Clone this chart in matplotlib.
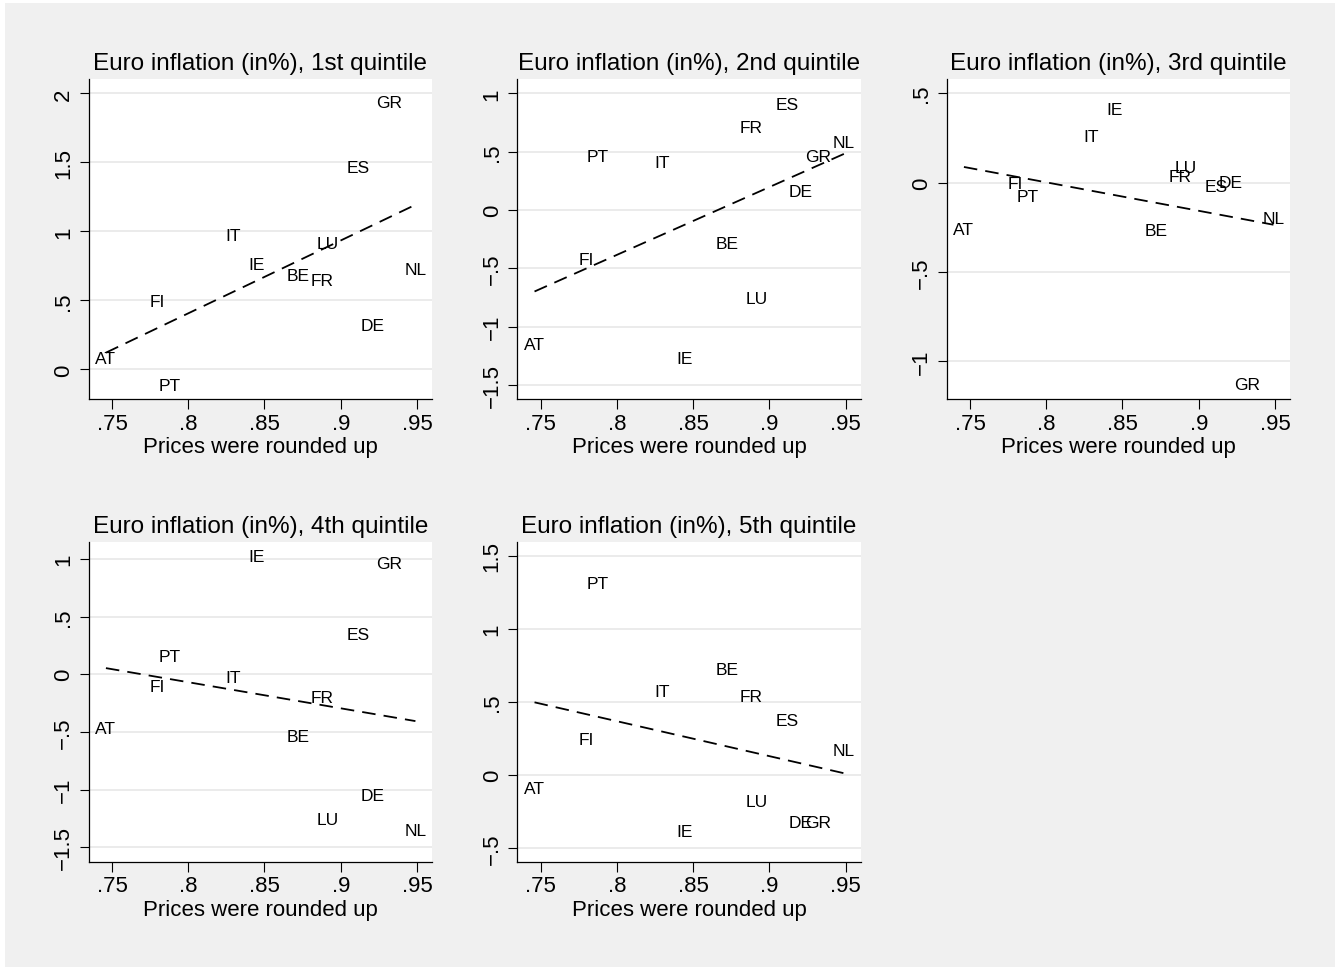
import numpy as np
import matplotlib
matplotlib.use("Agg")
import matplotlib.pyplot as plt
from matplotlib.patches import Rectangle

plt.rcParams['font.family'] = ['Liberation Sans', 'DejaVu Sans']
plt.rcParams['axes.unicode_minus'] = True

# ------------------------------
# data
# ------------------------------
countries = ["AT", "FI", "PT", "IT", "IE", "BE", "FR", "LU", "ES", "DE", "GR", "NL"]
rounded_up = [0.746, 0.780, 0.7876, 0.8297, 0.8445, 0.8723, 0.888, 0.8917, 0.9115, 0.9208, 0.932, 0.949]

infl_q1 = [0.080, 0.489, -0.116, 0.967, 0.757, 0.677, 0.641, 0.912, 1.463, 0.319, 1.935, 0.726]
infl_q2 = [-1.157, -0.426, 0.457, 0.403, -1.277, -0.291, 0.703, -0.757, 0.900, 0.160, 0.457, 0.580]
infl_q3 = [-0.264, -0.004, -0.078, 0.257, 0.408, -0.268, 0.035, 0.086, -0.022, 0.000, -1.130, -0.203]
infl_q4 = [-0.473, -0.104, 0.156, -0.029, 1.022, -0.540, -0.199, -1.261, 0.343, -1.050, 0.964, -1.354]
infl_q5 = [-0.096, 0.243, 1.313, 0.568, -0.387, 0.723, 0.535, -0.181, 0.375, -0.325, -0.323, 0.167]

titles = ["Euro inflation (in%), 1st quintile", "Euro inflation (in%), 2nd quintile",
          "Euro inflation (in%), 3rd quintile", "Euro inflation (in%), 4th quintile",
          "Euro inflation (in%), 5th quintile"]
x_ticks = [0.75, 0.8, 0.85, 0.9, 0.95]
y_ticks = [[0, 0.5, 1, 1.5, 2],
           [-1.5, -1, -0.5, 0, 0.5, 1],
           [-1, -0.5, 0, 0.5],
           [-1.5, -1, -0.5, 0, 0.5, 1],
           [-0.5, 0, 0.5, 1, 1.5]]
y_lims = [(-0.213, 2.104), (-1.62, 1.123), (-1.209, 0.579), (-1.622, 1.149), (-0.593, 1.597)]
series = [infl_q1, infl_q2, infl_q3, infl_q4, infl_q5]


def stata_fmt(v):
    # stata style: .5 instead of 0.5, real minus sign
    s = "%g" % v
    s = s.replace("0.", ".") if abs(v) < 1 else s
    return s.replace("-", "\u2212")


# ------------------------------
# figure layout (pixel positions of the plot regions)
# ------------------------------
W, H = 1340, 970
fig = plt.figure(figsize=(W / 100, H / 100), dpi=100, facecolor="white")
fig.patches.append(Rectangle((5 / W, 2 / H), 1330 / W, 964 / H, transform=fig.transFigure,
                             facecolor="#f0f0f0", edgecolor="none", zorder=-10))

lefts = [88.7, 517.3, 946.7, 88.7, 517.3]
tops = [80, 80, 80, 542.7, 542.7]
pw, ph = 343.5, 319.8

x = np.array(rounded_up)
for i in range(5):
    ax = fig.add_axes([lefts[i] / W, 1 - (tops[i] + ph) / H, pw / W, ph / H])
    ax.set_facecolor("white")
    y = np.array(series[i])

    ax.set_xlim(0.7347, 0.960)
    ax.set_ylim(*y_lims[i])
    ax.set_yticks(y_ticks[i])
    ax.set_yticklabels([stata_fmt(v) for v in y_ticks[i]])
    ax.set_xticks(x_ticks)
    ax.set_xticklabels([stata_fmt(v) for v in x_ticks])
    ax.grid(axis="y", color="#e8e8e8", linewidth=1.2)
    ax.set_axisbelow(True)

    for s in ["top", "right"]:
        ax.spines[s].set_visible(False)
    for s in ["left", "bottom"]:
        ax.spines[s].set_linewidth(0.9)
    ax.tick_params(axis="x", length=7, width=0.8, pad=3, labelsize=16)
    ax.tick_params(axis="y", length=6.5, width=0.8, pad=4, labelsize=16, labelrotation=90)
    for lab in ax.get_yticklabels():
        lab.set_va("center")

    # country labels (no markers)
    for c, xv, yv in zip(countries, x, y):
        ax.text(xv, yv, c, fontsize=12.5, ha="center", va="center")

    # linear fit
    b, a = np.polyfit(x, y, 1)
    xx = np.array([x.min(), x.max()])
    ax.plot(xx, a + b * xx, color="black", linewidth=1.3, linestyle=(0, (7.5, 4.5)))

    ax.set_title(titles[i], fontsize=17.5, pad=7)
    ax.set_xlabel("Prices were rounded up", fontsize=16, labelpad=2)

fig.savefig("out.png", dpi=100, facecolor=fig.get_facecolor())
